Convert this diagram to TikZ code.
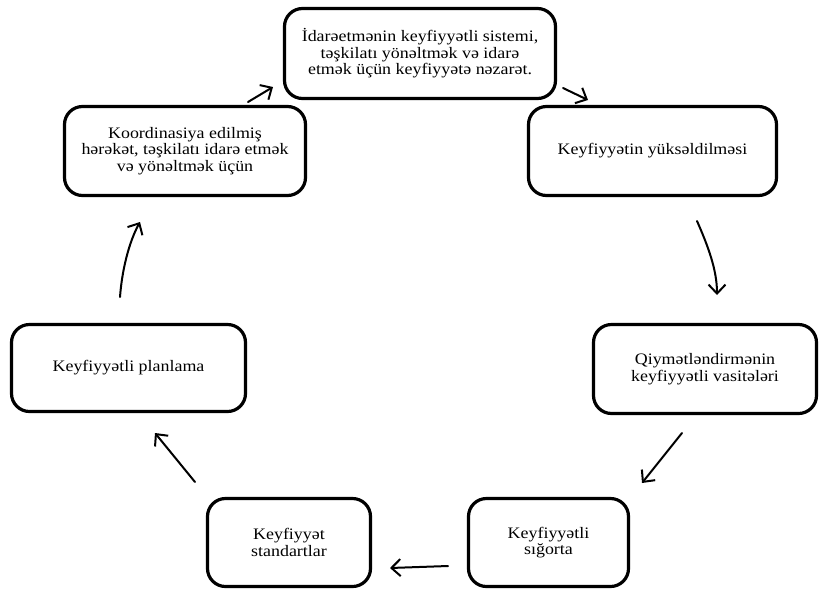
\documentclass[tikz,border=0pt]{standalone}
\usepackage{fontspec}
\setmainfont[FakeStretch=1.12]{Liberation Serif}
\usetikzlibrary{arrows.meta}
\begin{document}
\begin{tikzpicture}[x=1pt,y=-1pt,
  box/.style={draw, line width=3.2pt, rounded corners=18pt, align=center, inner sep=0pt,
    font=\fontsize{16}{16.5}\selectfont},
  arr/.style={line width=2pt, line cap=round,
    -{Straight Barb[length=9pt,width=17pt,line width=2pt]}}]
\useasboundingbox (0,0) rectangle (819,590);

\node[box, minimum width=271pt, minimum height=90pt] (ctrl) at (420,53.5)
  {İdarəetmənin keyfiyyətli sistemi,\\təşkilatı yönəltmək və idarə\\etmək üçün keyfiyyətə nəzarət.};
\node[box, minimum width=241pt, minimum height=89pt] (coord) at (185,151)
  {Koordinasiya edilmiş\\hərəkət, təşkilatı idarə etmək\\və yönəltmək üçün};
\node[box, minimum width=248pt, minimum height=89pt] (impr) at (652.5,151)
  {Keyfiyyətin yüksəldilməsi};
\node[box, minimum width=234pt, minimum height=87pt] (plan) at (128.5,368)
  {Keyfiyyətli planlama};
\node[box, minimum width=223pt, minimum height=89pt] (eval) at (705,369)
  {Qiymətləndirmənin\\keyfiyyətli vasitələri};
\node[box, minimum width=163pt, minimum height=88pt] (std) at (289,542.5)
  {Keyfiyyət\\standartlar};
\node[box, minimum width=160pt, minimum height=88pt] (ins) at (548.5,542.5)
  {Keyfiyyətli\\sığorta};

\coordinate (a1s) at (248,102); \coordinate (a1e) at (273,87);
\coordinate (a2s) at (563,88);  \coordinate (a2e) at (588,100);
\coordinate (a3s) at (697,221); \coordinate (a3e) at (717,295);
\coordinate (a4s) at (682,433); \coordinate (a4e) at (642,483);
\coordinate (a5s) at (448,566); \coordinate (a5e) at (390,568);
\coordinate (a6s) at (195,482); \coordinate (a6e) at (155,433);
\coordinate (a7s) at (120,297); \coordinate (a7e) at (140,222);

\draw[arr] (a1s) -- (a1e);
\draw[arr] (a2s) -- (a2e);
\draw[arr] (a3s) .. controls (708,246) and (717,270) .. (a3e);
\draw[arr] (a4s) -- (a4e);
\draw[arr] (a5s) -- (a5e);
\draw[arr] (a6s) -- (a6e);
\draw[arr] (a7s) .. controls (122,270) and (129,242) .. (a7e);
\end{tikzpicture}
\end{document}
